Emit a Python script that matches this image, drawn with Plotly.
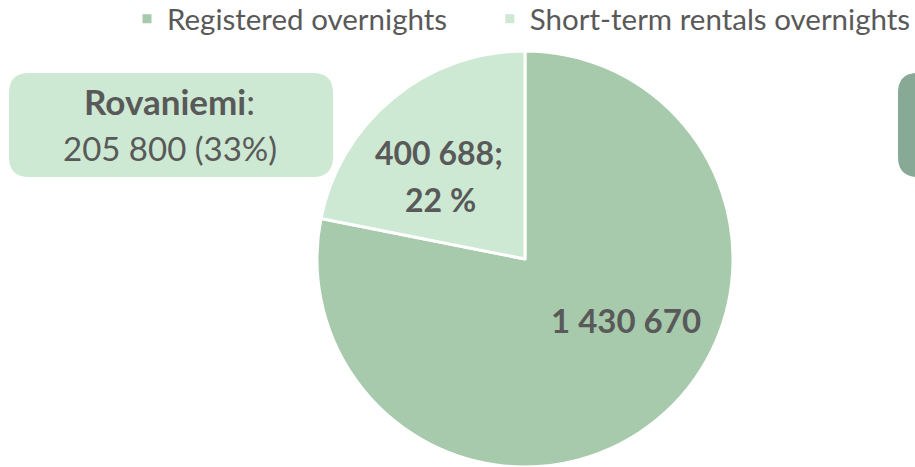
import plotly.graph_objects as go

# data
categories = ["Registered overnights", "Short-term rentals overnights"]
overnights = [1430670, 400688]
slice_colors = ["#A6CAAB", "#CDE9D3"]

callout_city = "Rovaniemi"
callout_value = 205800
callout_share = 33

TEXT = "#595959"
FONT = "Lato"

W, H = 915, 467


def fmt(v):
    return f"{v:,}".replace(",", " ")


def px(x, y):
    # pixel position (from top left) -> paper coords
    return x / W, 1 - y / H


def rounded_box(x0, y0, x1, y1, r):
    # rounded rectangle as an svg path in paper coords, corners as quadratic curves
    pts = [
        ("M", [(x0 + r, y0)]),
        ("L", [(x1 - r, y0)]),
        ("Q", [(x1, y0), (x1, y0 + r)]),
        ("L", [(x1, y1 - r)]),
        ("Q", [(x1, y1), (x1 - r, y1)]),
        ("L", [(x0 + r, y1)]),
        ("Q", [(x0, y1), (x0, y1 - r)]),
        ("L", [(x0, y0 + r)]),
        ("Q", [(x0, y0), (x0 + r, y0)]),
    ]
    path = ""
    for cmd, coords in pts:
        path += cmd + " ".join("{:.5f},{:.5f}".format(*px(x, y)) for x, y in coords)
    return path + "Z"


def label(x, y, text, size):
    fig.add_annotation(
        x=px(x, y)[0], y=px(x, y)[1], xref="paper", yref="paper",
        xanchor="center", yanchor="middle",
        text=text, showarrow=False,
        font=dict(family=FONT, size=size, color=TEXT),
    )


total = sum(overnights)
share = [round(100 * v / total) for v in overnights]

fig = go.Figure()

# non-breaking spaces widen the gap between the two legend entries
legend_names = [categories[0] + "\u00a0" * 5, categories[1]]

fig.add_pie(
    labels=legend_names,
    values=overnights,
    textinfo="none",
    marker=dict(colors=slice_colors, line=dict(color="white", width=3)),
    sort=False,
    direction="clockwise",
    rotation=0,
    hole=0,
    domain=dict(x=[(525 - 208) / W, (525 + 208) / W], y=[0, 1 - 51 / H]),
    hoverinfo="label+value+percent",
)

# slice labels
label(626, 320, f"<b>{fmt(overnights[0])}</b>", 33)
label(439, 152, f"<b>{fmt(overnights[1])};</b>", 32)
label(440, 199, f"<b>{share[1]} %</b>", 32)

# callout boxes
fig.add_shape(
    type="path", xref="paper", yref="paper",
    path=rounded_box(9, 73, 333, 177, 20),
    fillcolor=slice_colors[1], line_width=0, layer="below",
)
fig.add_shape(
    type="path", xref="paper", yref="paper",
    path=rounded_box(898, 73, 1010, 177, 20),
    fillcolor="#88A996", line_width=0, layer="below",
)
label(169, 101, f"<b>{callout_city}</b>:", 35)
label(170, 148, f"{fmt(callout_value)} ({callout_share}%)", 33)

fig.update_layout(
    width=W,
    height=H,
    margin=dict(l=0, r=0, t=0, b=0, autoexpand=False),
    paper_bgcolor="white",
    plot_bgcolor="white",
    font=dict(family=FONT, color=TEXT),
    showlegend=True,
    legend=dict(
        orientation="h",
        x=127 / W, xanchor="left",
        y=1 + 7 / H, yanchor="top",
        font=dict(family=FONT, size=29.5, color=TEXT),
        itemwidth=30,
        traceorder="normal",
        bgcolor="rgba(0,0,0,0)",
    ),
)

fig.write_html(
    "out.html",
    config={"displayModeBar": False},
    post_script="document.body.style.margin='0';",
)
